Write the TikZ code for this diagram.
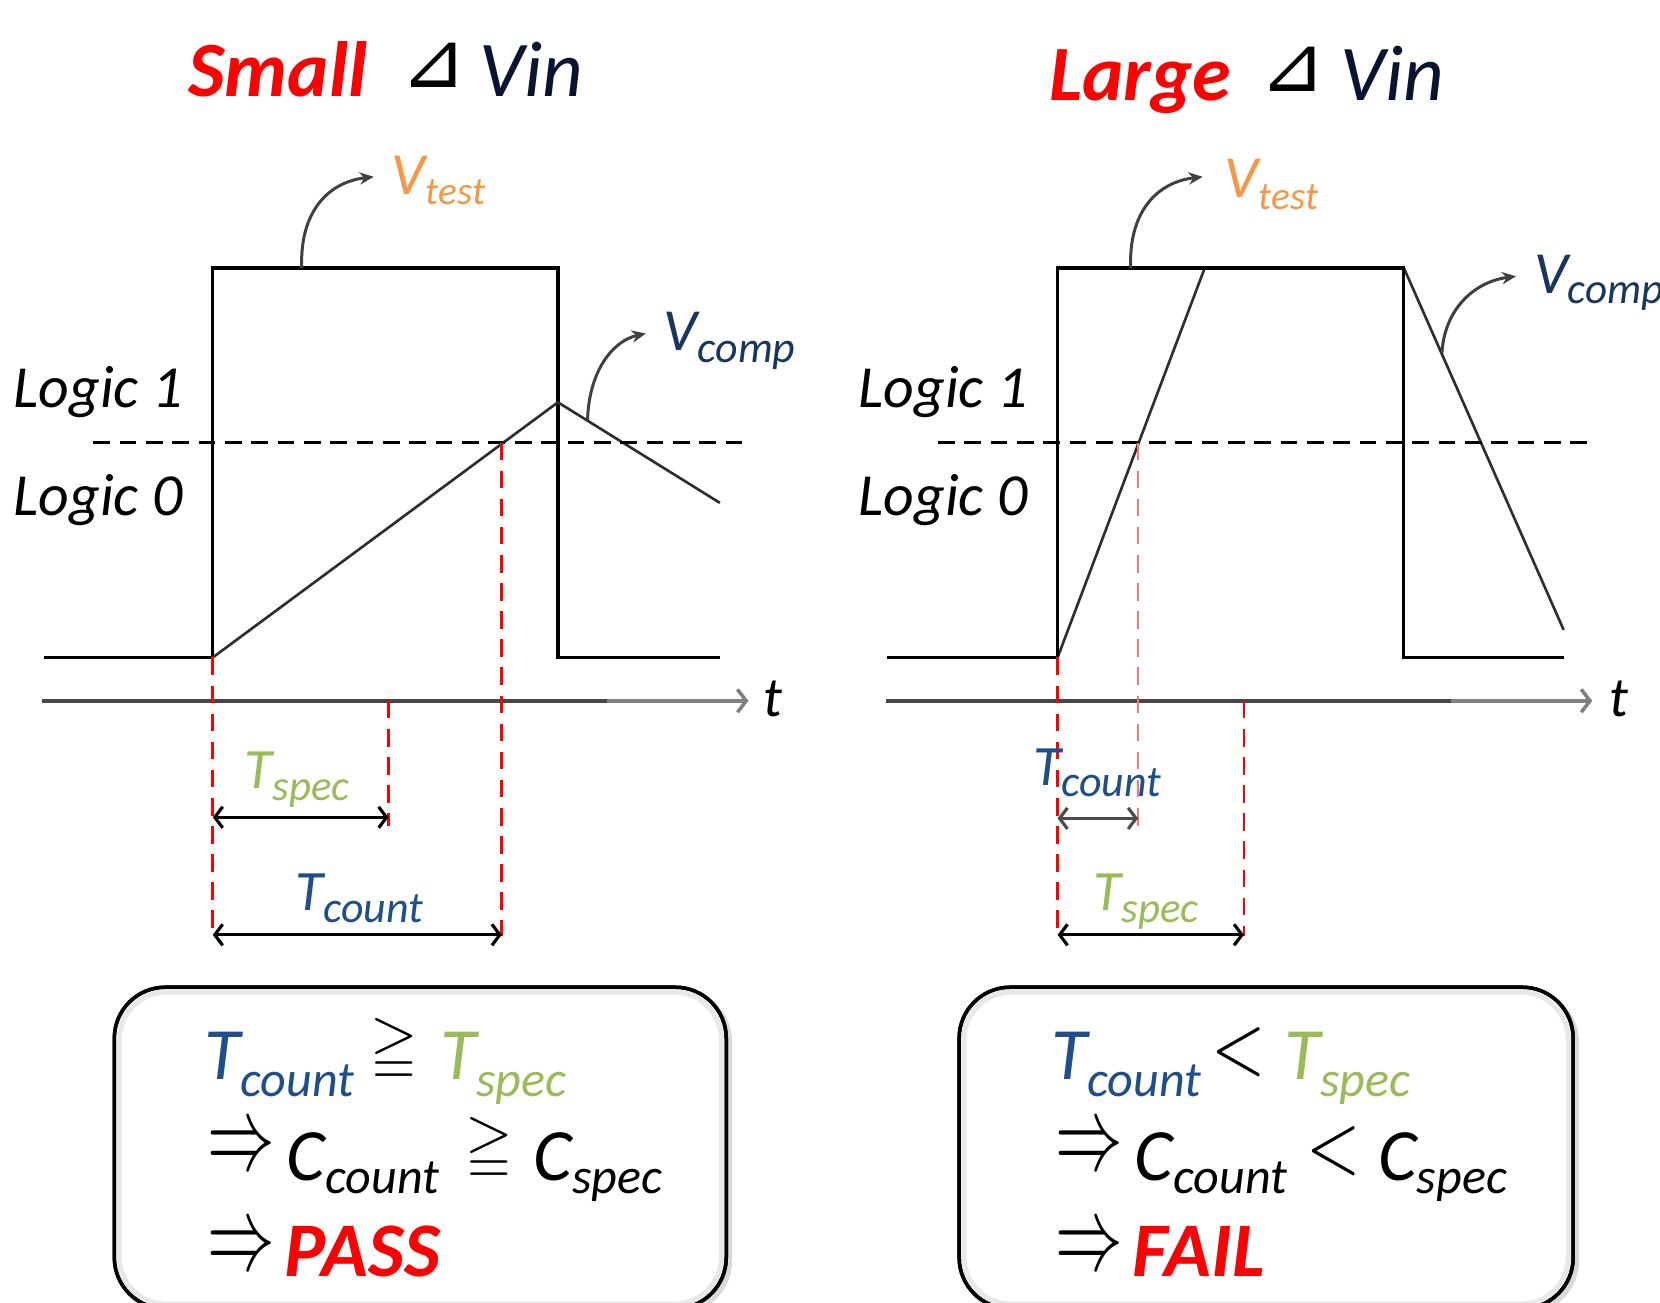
\documentclass[tikz,border=0pt]{standalone}
\usepackage{fontspec}
\usepackage{amssymb}
\usepackage{graphicx}
\setmainfont{Carlito}
\newfontfamily\symfont{DejaVu Sans}
\usetikzlibrary{arrows.meta}
\definecolor{tcountc}{RGB}{31,78,140}
\definecolor{tspecc}{RGB}{155,187,89}
\definecolor{vtestc}{RGB}{247,150,70}
\definecolor{vcompc}{RGB}{23,55,94}
\definecolor{vinc}{RGB}{10,20,50}
\definecolor{redc}{RGB}{255,0,0}
\newcommand\fs[1]{\fontsize{#1}{#1}\selectfont}
\newcommand\lbl[5]{{\fs{#1}#4}\raisebox{-#3}{\fs{#2}#5}}
\begin{document}
\begin{tikzpicture}[x=0.021174cm,y=-0.021174cm,
  txt/.style={inner sep=0pt, outer sep=0pt, anchor=base west, font=\itshape},
  sym/.style={inner sep=0pt, outer sep=0pt, anchor=center},
  wave/.style={line width=1.9pt, black},
  comp/.style={line width=1.5pt, black!82},
  thr/.style={line width=1.4pt, black, dash pattern=on 9.5pt off 5.5pt},
  reddash/.style={line width=1.6pt, redc, dash pattern=on 10pt off 6pt},
  axisdark/.style={line width=2.6pt, black!72},
  axislight/.style={line width=2.6pt, black!50, -{Straight Barb[length=5pt,width=13pt,line width=2pt]}, draw=black!50},
  dimarrow/.style={line width=1.8pt, black, {Straight Barb[length=4.5pt,width=12pt]}-{Straight Barb[length=4.5pt,width=12pt]}},
  annot/.style={line width=1.7pt, black!75, -{Stealth[length=8pt,width=7pt]}},
  panel/.style={line width=2pt, black, rounded corners=29pt, fill=white},
  innershade/.style={line width=3pt, black!9, rounded corners=27pt},
  outershade/.style={line width=3pt, black!15, rounded corners=29pt}
]
\useasboundingbox (0,0) rectangle (1568,1230);
\clip (0,0) rectangle (1568,1230);
\fill[white] (0,0) rectangle (1568,1230);

% ---------------- titles ----------------
\node[txt, font=\bfseries\itshape\fs{44.6}, text=redc] (tsmall) at (178,91) {Small};
\node[sym, font=\symfont\fs{45}] (tri1) at (410,62) {⊿};
\node[txt, font=\itshape\fs{45}, text=vinc] (vin1) at (453,91) {Vin};
\node[txt, font=\bfseries\itshape\fs{44.6}, text=redc] (tlarge) at (991,94.5) {Large};
\node[sym, font=\symfont\fs{45}] (tri2) at (1221,65) {⊿};
\node[txt, font=\itshape\fs{45}, text=vinc] (vin2) at (1266,94.5) {Vin};

% ---------------- left panel waveforms ----------------
\coordinate (a0) at (42,621);
\coordinate (a1) at (201,621);
\coordinate (a2) at (201,253);
\coordinate (a3) at (527,253);
\coordinate (a4) at (527,621);
\coordinate (a5) at (680,621);
\coordinate (ap) at (527,380);
\coordinate (ae) at (680,475);
\draw[wave] (a0) -- (a1) -- (a2) -- (a3) -- (a4) -- (a5);
\draw[comp] (a1) -- (ap) -- (ae);
\coordinate (th1a) at (88,418);
\coordinate (th1b) at (708,418);
\draw[thr] (th1a) -- (th1b);
\coordinate (ax1a) at (40,662);
\coordinate (ax1m) at (573,662);
\coordinate (ax1b) at (707,662);
\draw[axisdark] (ax1a) -- (ax1m);
\draw[axislight] (ax1m) -- (ax1b);
\node[txt, font=\itshape\fs{32}] (t1) at (721,677) {t};

\node[txt, font=\itshape\fs{34}] (l11) at (13,385) {Logic 1};
\node[txt, font=\itshape\fs{34}] (l10) at (13,487) {Logic 0};

% red dashed markers
\coordinate (r1a) at (201,621); \coordinate (r1b) at (201,884);
\coordinate (r2a) at (367,662); \coordinate (r2b) at (367,780);
\coordinate (r3a) at (474,418); \coordinate (r3b) at (474,884);
\draw[reddash] (r1a) -- (r1b);
\draw[reddash] (r2a) -- (r2b);
\draw[reddash] (r3a) -- (r3b);

% dimension arrows
\coordinate (d1a) at (201,772); \coordinate (d1b) at (367,772);
\coordinate (d2a) at (201,883); \coordinate (d2b) at (474,883);
\draw[dimarrow] (d1a) -- (d1b);
\draw[dimarrow] (d2a) -- (d2b);
\node[txt, text=tspecc] (tspec1) at (231,745) {\lbl{32.5}{24.4}{6.6pt}{T}{spec}};
\node[txt, text=tcountc] (tcount1) at (279,860) {\lbl{32.5}{25}{6.6pt}{T}{count}};

% annotations
\node[txt, text=vtestc] (vtest1) at (370,184) {\lbl{34}{22.4}{5.8pt}{V}{test}};
\node[txt, text=vcompc] (vcomp1) at (627,330.6) {\lbl{34}{25}{6.9pt}{V}{comp}};
\coordinate (v1s) at (285,253);
\coordinate (v1e) at (353,167);
\draw[annot] (v1s) .. controls (283,200) and (310,172) .. (v1e);
\coordinate (c1s) at (555,397);
\coordinate (c1e) at (610,315);
\draw[annot] (c1s) .. controls (556,352) and (578,322) .. (c1e);

% result box left
\draw[outershade] (111,936) rectangle (689,1239);
\draw[panel] (108,932.5) rectangle (686,1236);
\draw[innershade] (112.5,937) rectangle (681.5,1232);
\draw[line width=2pt, black, rounded corners=29pt] (108,932.5) rectangle (686,1236);
\node[txt, text=tcountc] (bt1) at (193,1020) {\lbl{42}{28.5}{9.6pt}{T}{count}};
\node[sym] (ge1) at (372,992) {\resizebox*{27pt}{36pt}{$\geqq$}};
\node[txt, text=tspecc] (bs1) at (416,1020) {\lbl{42}{28.5}{9.6pt}{T}{spec}};
\node[sym] (ar11) at (228,1086) {\resizebox*{38.5pt}{22pt}{$\Rightarrow$}};
\node[txt, text=black] (bc1) at (271,1114.6) {\lbl{42}{28.5}{7.5pt}{C}{count}};
\node[sym] (ge2) at (462.5,1085) {\resizebox*{27pt}{36pt}{$\geqq$}};
\node[txt, text=black] (bcs1) at (504,1114.6) {\lbl{42}{28.5}{7.5pt}{C}{spec}};
\node[sym] (ar12) at (228,1181) {\resizebox*{38.5pt}{22pt}{$\Rightarrow$}};
\node[txt, font=\bfseries\itshape\fs{44}, text=redc] (pass) at (269,1206) {PASS};

% ---------------- right panel waveforms ----------------
\coordinate (b0) at (838,621);
\coordinate (b1) at (999,621);
\coordinate (b2) at (999,253);
\coordinate (b3) at (1326,253);
\coordinate (b4) at (1326,621);
\coordinate (b5) at (1477,621);
\coordinate (bp) at (1138,253);
\coordinate (be) at (1477,595);
\draw[comp] (b1) -- (bp) -- (b3) -- (be);
\draw[wave] (b0) -- (b1) -- (b2) -- (b3) -- (b4) -- (b5);
\coordinate (th2a) at (886,418);
\coordinate (th2b) at (1505,418);
\draw[thr] (th2a) -- (th2b);
\coordinate (ax2a) at (837,662);
\coordinate (ax2m) at (1371,662);
\coordinate (ax2b) at (1504,662);
\draw[axisdark] (ax2a) -- (ax2m);
\draw[axislight] (ax2m) -- (ax2b);
\node[txt, font=\itshape\fs{32}] (t2) at (1520,677) {t};

\node[txt, font=\itshape\fs{34}] (l21) at (811,385) {Logic 1};
\node[txt, font=\itshape\fs{34}] (l20) at (811,487) {Logic 0};

\coordinate (s1a) at (999,621); \coordinate (s1b) at (999,884);
\coordinate (s2a) at (1075,418); \coordinate (s2b) at (1075,780);
\coordinate (s3a) at (1175,662); \coordinate (s3b) at (1175,884);
\draw[reddash] (s1a) -- (s1b);
\draw[reddash, draw=redc!55] (s2a) -- (s2b);
\draw[reddash] (s3a) -- (s3b);

\coordinate (e1a) at (999,773); \coordinate (e1b) at (1075,773);
\coordinate (e2a) at (999,883); \coordinate (e2b) at (1175,883);
\draw[dimarrow, black!70] (e1a) -- (e1b);
\draw[dimarrow] (e2a) -- (e2b);
\node[txt, text=tcountc] (tcount2) at (976,741.5) {\lbl{32.5}{25}{6.6pt}{T}{count}};
\node[txt, text=tspecc] (tspec2) at (1033,860) {\lbl{32.5}{24.4}{6.6pt}{T}{spec}};

\node[txt, text=vtestc] (vtest2) at (1157,187) {\lbl{34}{22.4}{6.4pt}{V}{test}};
\node[txt, text=vcompc] (vcomp2) at (1449,277) {\lbl{34}{24.5}{5.8pt}{V}{comp}};
\coordinate (v2s) at (1068,253);
\coordinate (v2e) at (1136,167);
\draw[annot] (v2s) .. controls (1066,200) and (1093,172) .. (v2e);
\coordinate (c2s) at (1362,334);
\coordinate (c2e) at (1432,261);
\draw[annot] (c2s) .. controls (1364,292) and (1393,266) .. (c2e);

% result box right
\draw[outershade] (909,936) rectangle (1489,1239);
\draw[panel] (906,932.5) rectangle (1486,1236);
\draw[innershade] (910.5,937) rectangle (1481.5,1232);
\draw[line width=2pt, black, rounded corners=29pt] (906,932.5) rectangle (1486,1236);
\node[txt, text=tcountc] (bt2) at (993,1020) {\lbl{42}{28.5}{9.6pt}{T}{count}};
\node[sym] (lt1) at (1170,994) {\resizebox*{31pt}{28pt}{$<$}};
\node[txt, text=tspecc] (bs2) at (1213,1020) {\lbl{42}{28.5}{9.6pt}{T}{spec}};
\node[sym] (ar21) at (1028.5,1086) {\resizebox*{38.5pt}{22pt}{$\Rightarrow$}};
\node[txt, text=black] (bc2) at (1072,1114.6) {\lbl{42}{28.5}{7.5pt}{C}{count}};
\node[sym] (lt2) at (1260,1087) {\resizebox*{31pt}{28pt}{$<$}};
\node[txt, text=black] (bcs2) at (1302,1114.6) {\lbl{42}{28.5}{7.5pt}{C}{spec}};
\node[sym] (ar22) at (1028.5,1181) {\resizebox*{38.5pt}{22pt}{$\Rightarrow$}};
\node[txt, font=\bfseries\itshape\fs{44}, text=redc] (fail) at (1070,1206) {FAIL};
\end{tikzpicture}
\end{document}
